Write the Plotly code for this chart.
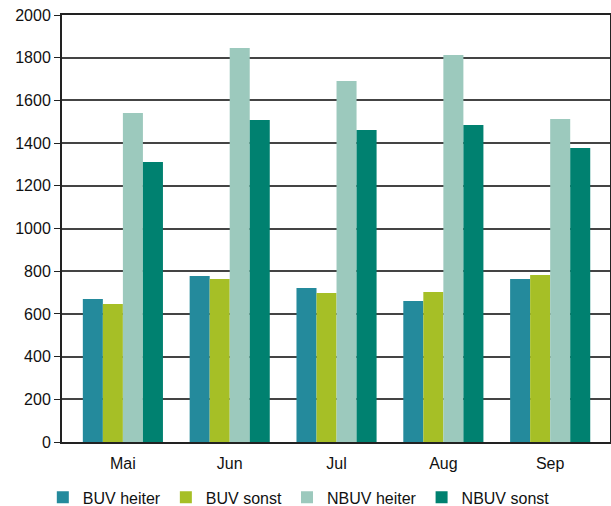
import plotly.graph_objects as go

months = ["Mai", "Jun", "Jul", "Aug", "Sep"]
buv_heiter = [670, 777, 721, 660, 763]
buv_sonst = [646, 763, 698, 703, 782]
nbuv_heiter = [1541, 1845, 1691, 1813, 1513]
nbuv_sonst = [1311, 1508, 1461, 1485, 1377]

series = [
    ("BUV heiter", buv_heiter, "#248a9c"),
    ("BUV sonst", buv_sonst, "#a6bf26"),
    ("NBUV heiter", nbuv_heiter, "#9cc9bd"),
    ("NBUV sonst", nbuv_sonst, "#008170"),
]

fig = go.Figure()
for name, vals, color in series:
    fig.add_trace(go.Bar(x=months, y=vals, name=name, marker_color=color, marker_line_width=0))

fig.update_layout(
    width=611,
    height=506,
    barmode="group",
    bargap=0.25,
    bargroupgap=0,
    plot_bgcolor="white",
    paper_bgcolor="white",
    font=dict(family="Liberation Sans, Arial, sans-serif", size=16, color="#111"),
    margin=dict(l=62, r=1, t=15, b=64, autoexpand=False),
    legend=dict(
        orientation="h",
        x=-0.035,
        xanchor="left",
        y=-0.09,
        yanchor="top",
        font=dict(size=16),
        itemwidth=30,
        traceorder="normal",
    ),
)

fig.update_xaxes(
    range=[-0.57, 4.56],
    showline=True,
    linecolor="#222",
    linewidth=2,
    mirror=True,
    showgrid=False,
    ticks="",
    ticklabelstandoff=6,
    automargin=False,
)
fig.update_yaxes(
    range=[0, 2000],
    dtick=200,
    showline=True,
    linecolor="#222",
    linewidth=2,
    mirror=True,
    showgrid=True,
    gridcolor="#444",
    gridwidth=1.5,
    ticks="outside",
    ticklen=6,
    tickcolor="#222",
    zeroline=False,
    automargin=False,
)

# page body has a default margin; drop it so the figure fills the window
fig.write_html(
    "out.html",
    config={"displayModeBar": False},
    post_script="document.body.style.margin='0';",
)
